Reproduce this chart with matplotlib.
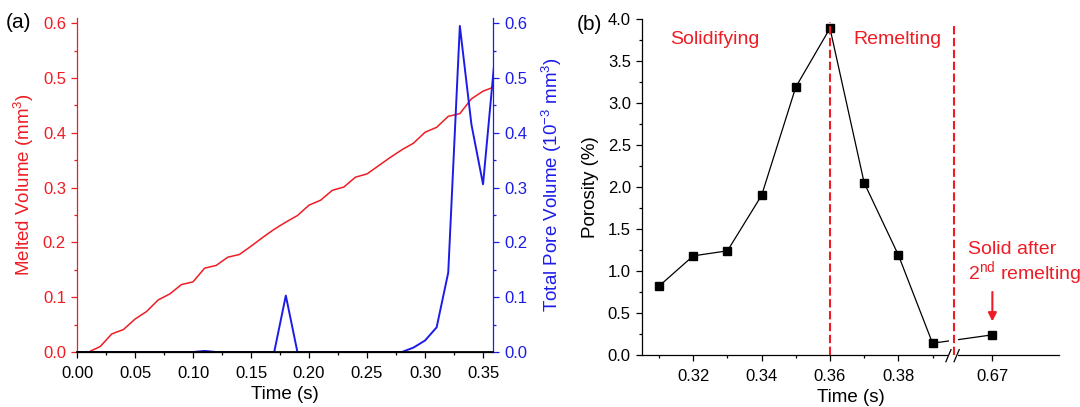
import numpy as np
import matplotlib.pyplot as plt

plt.rcParams['font.family'] = ['Liberation Sans', 'DejaVu Sans']
plt.rcParams['mathtext.fontset'] = 'custom'
plt.rcParams['mathtext.rm'] = 'Liberation Sans'
plt.rcParams['mathtext.it'] = 'Liberation Sans:italic'
plt.rcParams['mathtext.default'] = 'rm'

RED = '#ee1c24'
BLUE = '#1c1ce8'
TICK_FS = 12
LABEL_FS = 13.5

# panel (a): melted volume and total pore volume against time
t_melt = np.round(np.arange(0.01, 0.361, 0.01), 2)
melted = [0.000, 0.010, 0.033, 0.041, 0.060, 0.074, 0.095, 0.106, 0.123, 0.128,
          0.153, 0.158, 0.173, 0.178, 0.193, 0.209, 0.224, 0.237, 0.249, 0.268,
          0.277, 0.295, 0.301, 0.319, 0.325, 0.340, 0.355, 0.369, 0.381, 0.401,
          0.410, 0.430, 0.435, 0.462, 0.476, 0.484]

t_pore = np.round(np.arange(0.00, 0.361, 0.01), 2)
pore = [0, 0, 0, 0, 0, 0, 0, 0, 0, 0,
        0, 0.002, 0, 0, 0, 0, 0, 0, 0.103, 0,
        0, 0, 0, 0, 0, 0, 0, 0, 0, 0.008,
        0.021, 0.045, 0.145, 0.595, 0.415, 0.306, 0.535]

# panel (b): porosity
t_por = [0.31, 0.32, 0.33, 0.34, 0.35, 0.36, 0.37, 0.38, 0.39, 0.67]
porosity = [0.82, 1.18, 1.24, 1.90, 3.19, 3.89, 2.05, 1.19, 0.14, 0.24]
tick_major = [0.32, 0.34, 0.36, 0.38, 0.67]
tick_minor = [0.31, 0.33, 0.35, 0.37, 0.39]

# broken x axis: times after the break are shifted next to it
brk = 0.3962
shift = 0.67 - 0.4075


def xpos(t):
    t = np.asarray(t, dtype=float)
    return np.where(t > 0.4, t - shift, t)


fig = plt.figure(figsize=(10.8, 4.07), dpi=100)

# ---------------- (a) ----------------
ax = fig.add_axes([0.0713, 0.1351, 0.3852, 0.8214])
ax2 = ax.twinx()
ax.plot(t_melt, melted, color=RED, lw=1.1, zorder=3)
ax2.plot(t_pore, pore, color=BLUE, lw=1.4)
ax.set_xlim(0, 0.3586)
ax.set_ylim(0, 0.61)
ax2.set_ylim(0, 0.61)
ax.set_xticks(np.arange(0, 0.351, 0.05))
ax.set_xticks(np.arange(0.025, 0.36, 0.05), minor=True)
ax.set_yticks(np.arange(0, 0.61, 0.1))
ax.set_yticks(np.arange(0.05, 0.6, 0.1), minor=True)
ax2.set_yticks(np.arange(0, 0.61, 0.1))
ax2.set_yticks(np.arange(0.05, 0.6, 0.1), minor=True)
ax.xaxis.set_major_formatter(plt.FormatStrFormatter('%.2f'))
ax.yaxis.set_major_formatter(plt.FormatStrFormatter('%.1f'))
ax2.yaxis.set_major_formatter(plt.FormatStrFormatter('%.1f'))

for a in (ax, ax2):
    a.spines['top'].set_visible(False)
    for s in a.spines.values():
        s.set_linewidth(0.9)
ax.spines['left'].set_color(RED)
ax2.spines['left'].set_visible(False)
ax2.spines['right'].set_color(BLUE)
ax.spines['right'].set_visible(False)
# bottom spine of the twin drawn over the blue zero line
ax2.spines['bottom'].set_linewidth(1.3)
ax2.spines['bottom'].set_color('black')

ax.tick_params(axis='x', which='both', direction='out', labelsize=TICK_FS, pad=5.5)
ax.tick_params(axis='y', which='both', direction='out', colors=RED, labelsize=TICK_FS)
ax2.tick_params(axis='y', which='both', direction='out', colors=BLUE, labelsize=TICK_FS)
for a in (ax, ax2):
    a.tick_params(which='major', length=4.5, width=0.9)
    a.tick_params(which='minor', length=2.5, width=0.9)

ax.set_xlabel('Time (s)', fontsize=LABEL_FS, labelpad=4)
ax.set_ylabel('Melted Volume (mm$^3$)', fontsize=LABEL_FS, color=RED, labelpad=5)
ax2.set_ylabel('Total Pore Volume (10$^{-3}$ mm$^3$)', fontsize=LABEL_FS, color=BLUE, labelpad=9)
fig.text(0.005, 0.945, '(a)', fontsize=15, va='center')

# ---------------- (b) ----------------
bx = fig.add_axes([0.5944, 0.1278, 0.3862, 0.8255])
bx.plot(xpos(t_por), porosity, color='black', lw=0.9, marker='s', ms=6, zorder=3)
bx.set_xlim(0.305, 0.427)
bx.set_ylim(0, 4.0)
bx.set_xticks(xpos(tick_major))
bx.set_xticklabels(['%.2f' % t for t in tick_major])
bx.set_xticks(xpos(tick_minor), minor=True)
bx.set_yticks(np.arange(0, 4.01, 0.5))
bx.set_yticks(np.arange(0.25, 4.0, 0.5), minor=True)
bx.yaxis.set_major_formatter(plt.FormatStrFormatter('%.1f'))
bx.spines['top'].set_visible(False)
bx.spines['right'].set_visible(False)
for s in bx.spines.values():
    s.set_linewidth(0.9)
bx.tick_params(which='both', direction='out', labelsize=TICK_FS)
bx.tick_params(axis='x', which='both', pad=5.5)
bx.tick_params(which='major', length=4.5, width=0.9)
bx.tick_params(which='minor', length=2.5, width=0.9)
bx.set_xlabel('Time (s)', fontsize=LABEL_FS, labelpad=4)
bx.set_ylabel('Porosity (%)', fontsize=LABEL_FS, labelpad=6)
fig.text(0.534, 0.94, '(b)', fontsize=15, va='center')

# gap at the axis break (covers spine and connecting line)
tr = bx.get_xaxis_transform()
bx.add_patch(plt.Rectangle((0.3948, -0.01), 0.0026, 0.12, transform=tr,
                           facecolor='white', edgecolor='none', clip_on=False, zorder=4))
for x0 in (0.3939, 0.3963):
    bx.plot([x0, x0 + 0.0015], [-0.02, 0.016], transform=tr, color='black',
            lw=0.9, clip_on=False, zorder=5)

bx.vlines(0.36, 0, 3.97, colors=RED, linestyles=(0, (4, 1.7)), lw=1.5, zorder=6)
bx.vlines(brk, 0, 3.93, colors=RED, linestyles=(0, (4, 1.7)), lw=1.5, zorder=6)

bx.text(0.3264, 3.76, 'Solidifying', color=RED, fontsize=14, ha='center', va='center')
bx.text(0.3796, 3.76, 'Remelting', color=RED, fontsize=14, ha='center', va='center')
bx.text(0.4003, 1.25, 'Solid after', color=RED, fontsize=14, ha='left', va='center')
bx.text(0.4003, 0.97, '2$^{nd}$ remelting', color=RED, fontsize=14, ha='left', va='center')
bx.annotate('', xy=(float(xpos(0.67)), 0.40), xytext=(float(xpos(0.67)), 0.75),
            arrowprops=dict(arrowstyle='-|>,head_width=0.25,head_length=0.5',
                            color=RED, lw=1.5, shrinkA=0, shrinkB=0))

fig.savefig('out.png', dpi=100)
